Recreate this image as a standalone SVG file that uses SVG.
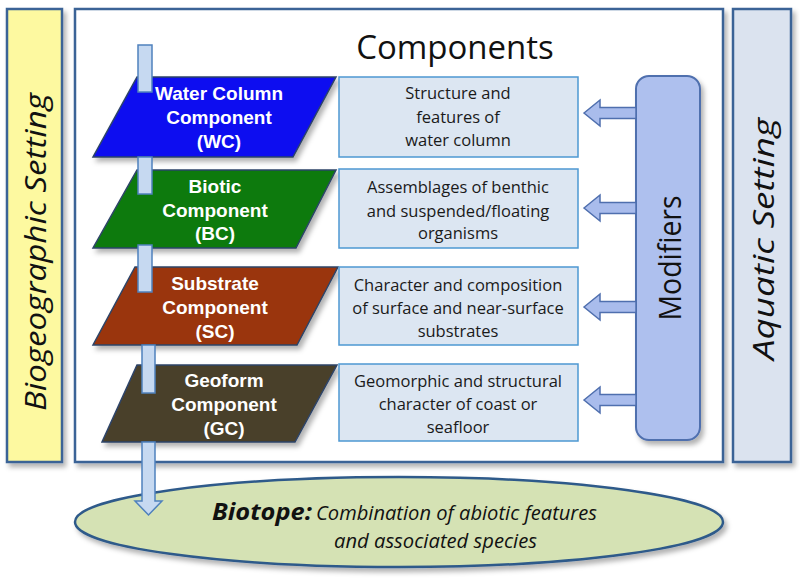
<svg xmlns="http://www.w3.org/2000/svg" width="800" height="579" viewBox="0 0 800 579">
<defs>
<filter id="sh" x="-10%" y="-10%" width="130%" height="130%">
<feDropShadow dx="3" dy="4" stdDeviation="2.5" flood-color="#000" flood-opacity="0.3"/>
</filter>
<style>
.frame{stroke:#3a6396;stroke-width:2.5}
.para{stroke:#2d4468;stroke-width:1.5}
.ptxt{font-family:"Liberation Sans",Arial,sans-serif;font-weight:bold;font-size:19px;fill:#fff;text-anchor:middle}
.box{fill:#dce6f2;stroke:#4d98d2;stroke-width:1.5}
.btxt{font-family:"Open Sans","Liberation Sans",sans-serif;font-size:16.5px;fill:#1a1a1a;text-anchor:middle}
.bar{fill:#c6d9f1;stroke:#4f81bd;stroke-width:1.5}
.marrow{fill:#a9bcec;stroke:#4f6fae;stroke-width:1.5}
.side{font-family:"Open Sans","Liberation Sans",sans-serif;font-style:italic;font-size:30px;fill:#111;text-anchor:middle}
</style>
</defs>
<rect width="800" height="579" fill="#fff"/>

<g id="biogeographic-setting">
<rect x="7" y="9" width="55" height="453" fill="#fdf9a0" class="frame" filter="url(#sh)"/>
<text class="side" transform="translate(46,252) rotate(-90)" textLength="318" lengthAdjust="spacingAndGlyphs">Biogeographic Setting</text>
</g>

<g id="components-frame">
<rect x="75" y="9" width="648" height="453" fill="#fff" class="frame" filter="url(#sh)"/>
<text x="455" y="59" font-family="Open Sans,Liberation Sans,sans-serif" font-size="33" fill="#111" text-anchor="middle">Components</text>
</g>

<g id="aquatic-setting">
<rect x="733" y="9" width="58" height="453" fill="#dbe3ef" class="frame" filter="url(#sh)"/>
<text class="side" transform="translate(774,239) rotate(-90)" textLength="242" lengthAdjust="spacingAndGlyphs">Aquatic Setting</text>
</g>

<g id="biotope">
<ellipse cx="399" cy="522" rx="324" ry="45" fill="#d5e2b4" stroke="#2f5a8a" stroke-width="2.5" filter="url(#sh)"/>
<text y="520" font-family="Open Sans,Liberation Sans,sans-serif" font-style="italic" font-size="20" fill="#111"><tspan x="212" font-weight="bold" font-size="23" textLength="100" lengthAdjust="spacingAndGlyphs">Biotope:</tspan><tspan x="316" textLength="281" lengthAdjust="spacingAndGlyphs">Combination of abiotic features</tspan></text>
<text x="334" y="548" font-family="Open Sans,Liberation Sans,sans-serif" font-style="italic" font-size="20" fill="#111" textLength="203" lengthAdjust="spacingAndGlyphs">and associated species</text>
</g>

<g id="wc">
<polygon points="137,77 336,77 293,157 93,157" fill="#0d0df0" class="para" filter="url(#sh)"/>
<text class="ptxt" x="219" y="100">Water Column</text>
<text class="ptxt" x="219" y="124">Component</text>
<text class="ptxt" x="219" y="148">(WC)</text>
</g>
<g id="bc">
<polygon points="137,170 336,170 296,248 93,248" fill="#0f7a10" class="para" filter="url(#sh)"/>
<text class="ptxt" x="215" y="193">Biotic</text>
<text class="ptxt" x="215" y="217">Component</text>
<text class="ptxt" x="215" y="240">(BC)</text>
</g>
<g id="sc">
<polygon points="135,267 338,267 297,345 93,345" fill="#9a350a" class="para" filter="url(#sh)"/>
<text class="ptxt" x="215" y="290">Substrate</text>
<text class="ptxt" x="215" y="314">Component</text>
<text class="ptxt" x="215" y="338">(SC)</text>
</g>
<g id="gc">
<polygon points="137,365 337,365 295,442 102,442" fill="#4a3f2b" class="para" filter="url(#sh)"/>
<text class="ptxt" x="224" y="387">Geoform</text>
<text class="ptxt" x="224" y="411">Component</text>
<text class="ptxt" x="224" y="435">(GC)</text>
</g>

<g id="wc-desc">
<rect x="339" y="77" width="239" height="80" class="box"/>
<text class="btxt" x="458" y="99">Structure and</text>
<text class="btxt" x="458" y="123">features of</text>
<text class="btxt" x="458" y="146">water column</text>
</g>
<g id="bc-desc">
<rect x="339" y="169" width="239" height="79" class="box"/>
<text class="btxt" x="458" y="193">Assemblages of benthic</text>
<text class="btxt" x="458" y="217">and suspended/floating</text>
<text class="btxt" x="458" y="239">organisms</text>
</g>
<g id="sc-desc">
<rect x="339" y="267" width="239" height="78" class="box"/>
<text class="btxt" x="458" y="291">Character and composition</text>
<text class="btxt" x="458" y="314">of surface and near-surface</text>
<text class="btxt" x="458" y="337">substrates</text>
</g>
<g id="gc-desc">
<rect x="339" y="364" width="239" height="77" class="box"/>
<text class="btxt" x="458" y="387">Geomorphic and structural</text>
<text class="btxt" x="458" y="410">character of coast or</text>
<text class="btxt" x="458" y="433">seafloor</text>
</g>

<g id="modifiers">
<rect x="636" y="76" width="64" height="364" rx="13" fill="#aec0ee" stroke="#4f6fae" stroke-width="2" filter="url(#sh)"/>
<text transform="translate(681,258) rotate(-90)" font-family="Open Sans,Liberation Sans,sans-serif" font-size="31" fill="#111" text-anchor="middle" textLength="125" lengthAdjust="spacingAndGlyphs">Modifiers</text>
</g>

<g id="connectors">
<rect class="bar" x="138" y="45" width="14" height="47"/>
<rect class="bar" x="138" y="157" width="14" height="37"/>
<rect class="bar" x="138" y="245" width="14" height="47"/>
<rect class="bar" x="142" y="345" width="13" height="48"/>
<polygon class="bar" points="142,442 155,442 155,501 162,501 148.5,515 135,501 142,501"/>
<polygon class="marrow" points="584,113 600,100 600,107.5 636,107.5 636,118.5 600,118.5 600,126"/>
<polygon class="marrow" points="584,208 600,195 600,202.5 636,202.5 636,213.5 600,213.5 600,221"/>
<polygon class="marrow" points="584,307 600,294 600,301.5 636,301.5 636,312.5 600,312.5 600,320"/>
<polygon class="marrow" points="584,400 600,387 600,394.5 636,394.5 636,405.5 600,405.5 600,413"/>
</g>
</svg>
